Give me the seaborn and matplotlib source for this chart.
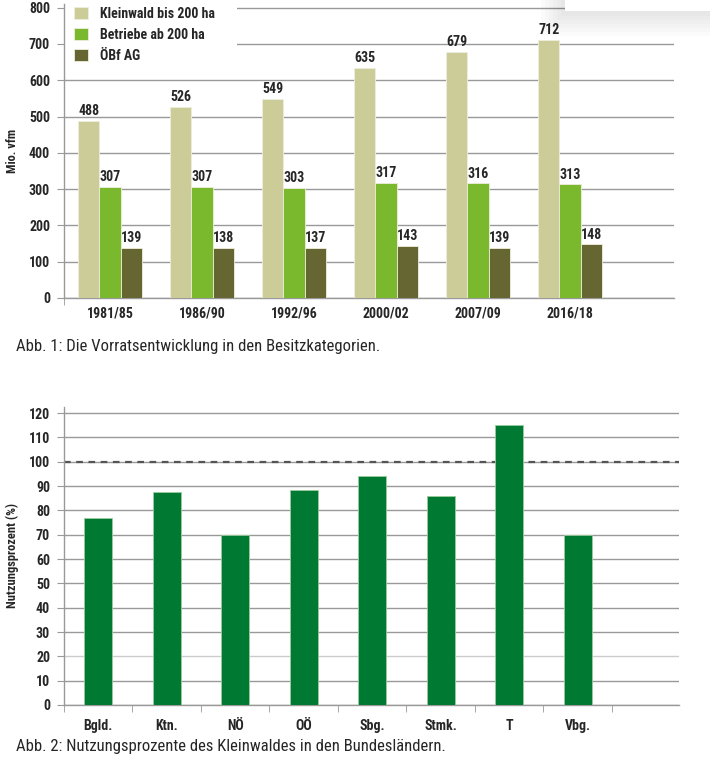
import pandas as pd
import seaborn as sns
import numpy as np
import matplotlib.pyplot as plt
from matplotlib.patches import Rectangle
from matplotlib import font_manager

# Abb. 1 data
perioden = ['1981/85', '1986/90', '1992/96', '2000/02', '2007/09', '2016/18']
kategorien = ['Kleinwald bis 200 ha', 'Betriebe ab 200 ha', 'ÖBf AG']
kleinwald = [488, 526, 549, 635, 679, 712]
betriebe = [307, 307, 303, 317, 316, 313]
oebf = [139, 138, 137, 143, 139, 148]

# Abb. 2 data
laender = ['Bgld.', 'Ktn.', 'NÖ', 'OÖ', 'Sbg.', 'Stmk.', 'T', 'Vbg.']
nutzung = [77, 87.5, 70, 88.5, 94, 86, 115, 70]

farben1 = ['#CCCC99', '#7AB92D', '#666633']
farbe2 = '#007A33'
grid_col = '#999999'

sns.set_style('white')
installed = {f.name for f in font_manager.fontManager.ttflist}
wanted = ['Roboto Condensed', 'Fira Sans Condensed', 'Archivo Narrow',
          'PT Sans Narrow', 'Liberation Sans Narrow']
cond = [f for f in wanted if f in installed][:1]
plt.rcParams['font.family'] = cond + ['DejaVu Sans']
plt.rcParams['font.weight'] = 'bold'

fig = plt.figure(figsize=(7.1, 7.71), dpi=100)

# ---------- Abb. 1 ----------
df1 = pd.DataFrame({
    'Periode': perioden * 3,
    'Kategorie': [k for k in kategorien for _ in perioden],
    'Vorrat': kleinwald + betriebe + oebf,
})

ax1 = fig.add_axes([64 / 710, 1 - 298 / 771, 610 / 710, 294 / 771])
sns.barplot(data=df1, x='Periode', y='Vorrat', hue='Kategorie', palette=farben1,
            saturation=1, width=0.69, edgecolor='#EEEEDD', linewidth=0.6,
            ax=ax1, zorder=3)
for cont in ax1.containers:
    ax1.bar_label(cont, padding=2, fontsize=10, fontweight='bold')

ax1.set_ylim(0, 810)
ax1.set_xlim(-0.5, 6.13)
ax1.set_yticks(np.arange(0, 801, 100))
ax1.yaxis.grid(True, color=grid_col, lw=1, zorder=0)
ax1.set_axisbelow(True)
ax1.set_xlabel('')
ax1.set_ylabel('Mio. vfm', fontsize=9, fontweight='bold', labelpad=7)
ax1.tick_params(axis='y', length=5, color=grid_col, labelsize=10, pad=5, direction='out', left=True)
ax1.tick_params(axis='x', length=0, labelsize=10, pad=6)
ax1.set_xticks(np.arange(-0.5, 0, 1), minor=True)
ax1.tick_params(axis='x', which='minor', length=5, color=grid_col, bottom=True)
for s in ['top', 'right']:
    ax1.spines[s].set_visible(False)
for s in ['left', 'bottom']:
    ax1.spines[s].set_color(grid_col)
    ax1.spines[s].set_linewidth(1)

# white legend area that hides the top gridlines
ax1.add_patch(Rectangle((65 / 710, 1 - 70 / 771), 172 / 710, 70 / 771,
                        transform=fig.transFigure, facecolor='white',
                        edgecolor='none', zorder=1, clip_on=False))
leg = ax1.legend(loc='upper left', bbox_to_anchor=(74 / 710, 1 - 7 / 771),
                 bbox_transform=fig.transFigure, frameon=False, fontsize=10,
                 handlelength=1.0, handleheight=1.0, handletextpad=0.85,
                 labelspacing=0.5, borderaxespad=0, borderpad=0)

fig.text(16 / 710, 1 - 347 / 771, 'Abb. 1: Die Vorratsentwicklung in den Besitzkategorien.',
         fontsize=12, fontweight='normal', va='center', ha='left')

# white box with soft shadow, top right
for i in range(6):
    off = (6 - i) * 4
    fig.add_artist(Rectangle((1 - (145 + off) / 710, 1 - (12 + off) / 771),
                             (145 + off) / 710, (12 + off) / 771,
                             transform=fig.transFigure, facecolor='black',
                             edgecolor='none', alpha=0.015, zorder=10))
fig.add_artist(Rectangle((565 / 710, 1 - 11 / 771), 145 / 710, 11 / 771,
                         transform=fig.transFigure, facecolor='white',
                         edgecolor='none', zorder=11))

# ---------- Abb. 2 ----------
df2 = pd.DataFrame({'Land': laender, 'Nutzung': nutzung})

ax2 = fig.add_axes([64 / 710, 1 - 705 / 771, 615 / 710, 298 / 771])
sns.barplot(data=df2, x='Land', y='Nutzung', color=farbe2, saturation=1,
            width=0.41, edgecolor='#9CCB9C', linewidth=0.6, ax=ax2, zorder=3)
ax2.set_ylim(0, 122.5)
ax2.set_xlim(-0.5, 8.48)
ax2.set_yticks(np.arange(0, 121, 10))
ax2.yaxis.grid(True, color=grid_col, lw=1, zorder=0)
for gl, v in zip(ax2.get_ygridlines(), np.arange(0, 121, 10)):
    if v == 20:
        gl.set_color('#CCCCCC')
ax2.set_axisbelow(True)
ax2.axhline(100, color='#555555', lw=1.6, ls=(0, (3, 2.5)), zorder=2)
ax2.set_xlabel('')
ax2.set_ylabel('Nutzungsprozent (%)', fontsize=9, fontweight='bold', labelpad=7)
ax2.tick_params(axis='y', length=5, color=grid_col, labelsize=10, pad=5, direction='out', left=True)
ax2.tick_params(axis='x', length=0, labelsize=10, pad=10)
ax2.set_xticks(np.arange(-0.5, 8, 1), minor=True)
ax2.tick_params(axis='x', which='minor', length=5, color=grid_col, bottom=True)
for s in ['top', 'right']:
    ax2.spines[s].set_visible(False)
for s in ['left', 'bottom']:
    ax2.spines[s].set_color(grid_col)
    ax2.spines[s].set_linewidth(1)

fig.text(16 / 710, 1 - 746 / 771, 'Abb. 2: Nutzungsprozente des Kleinwaldes in den Bundesländern.',
         fontsize=12, fontweight='normal', va='center', ha='left')

fig.savefig('out.png', dpi=100)
